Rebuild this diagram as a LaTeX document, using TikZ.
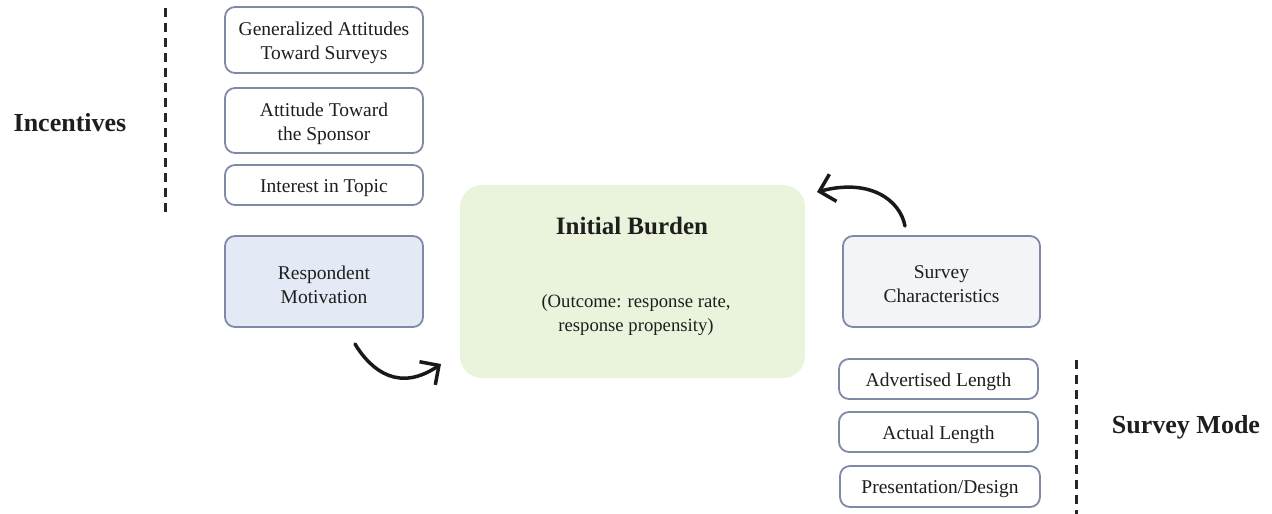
\documentclass[tikz,border=0pt]{standalone}
\usepackage{fontspec}
\setmainfont{Liberation Serif}
\usetikzlibrary{arrows.meta}
\definecolor{bordc}{HTML}{7F8AA6}
\definecolor{bluef}{HTML}{E4E9F6}
\definecolor{greenf}{HTML}{EAF4DC}
\definecolor{grayf}{HTML}{F3F4F7}
\definecolor{txt}{HTML}{1E1E1E}
\tikzset{
  factor/.style={draw=bordc, line width=1.8pt, rounded corners=10pt, fill=white, inner sep=0pt},
  boxtext/.style={align=center, text=txt, font=\fontsize{19.5}{24}\selectfont, inner sep=0pt, yshift=-3pt},
  sep/.style={line width=3pt, dash pattern=on 9pt off 6pt, black!85},
  heading/.style={font=\fontsize{26}{30}\selectfont\bfseries, text=txt},
  flow/.style={line width=3.5pt, black!90, line cap=round, -{Straight Barb[length=14pt,width=28pt,line width=3.5pt]}}
}
\begin{document}
\begin{tikzpicture}[x=1pt,y=-1pt]
\useasboundingbox (0,0) rectangle (1272,514);
% left column
\node[factor, minimum width=198pt, minimum height=66pt, label={[boxtext]center:Generalized Attitudes\\Toward Surveys}] (gen) at (324,40) {};
\node[factor, minimum width=198pt, minimum height=65pt, label={[boxtext]center:Attitude Toward\\the Sponsor}] (spon) at (324,120.5) {};
\node[factor, minimum width=198pt, minimum height=40pt, label={[boxtext]center:Interest in Topic}] (topic) at (324,185) {};
\node[factor, fill=bluef, minimum width=198pt, minimum height=91pt, label={[boxtext]center:Respondent\\Motivation}] (mot) at (324,281.5) {};
% center
\node[rounded corners=22pt, fill=greenf, minimum width=345pt, minimum height=193pt] (burden) at (632.5,281.5) {};
\node[font=\fontsize{25}{29}\selectfont\bfseries, text=txt] (bt) at (632,226) {Initial Burden};
\node[align=center, text=txt, font=\fontsize{18.7}{24}\selectfont] (bo) at (636,315) {(Outcome: response rate,\\response propensity)};
% right column
\node[factor, fill=grayf, minimum width=197pt, minimum height=91pt, label={[boxtext]center:Survey\\Characteristics}] (chars) at (941.5,281.5) {};
\node[factor, minimum width=199pt, minimum height=40pt, label={[boxtext]center:Advertised Length}] (adv) at (938.5,379) {};
\node[factor, minimum width=199pt, minimum height=40pt, label={[boxtext]center:Actual Length}] (act) at (938.5,432) {};
\node[factor, minimum width=200pt, minimum height=41pt, label={[boxtext]center:Presentation/Design}] (pres) at (940,486.5) {};
% separators and headings
\coordinate (l1) at (165,8);
\coordinate (l2) at (165,212);
\draw[sep] (l1) -- (l2);
\coordinate (r1) at (1076,360);
\coordinate (r2) at (1076,514);
\draw[sep] (r1) -- (r2);
\node[heading] (inc) at (70,123) {Incentives};
\node[heading] (mode) at (1186,427) {Survey Mode};
% arrows
\coordinate (a1s) at (355,344);
\coordinate (a1e) at (441,364);
\draw[flow] (a1s) .. controls (372,372) and (400,392) .. (a1e);
\coordinate (a2s) at (905,226);
\coordinate (a2e) at (817,192);
\draw[flow] (a2s) .. controls (900,200) and (870,178) .. (a2e);
\end{tikzpicture}
\end{document}
